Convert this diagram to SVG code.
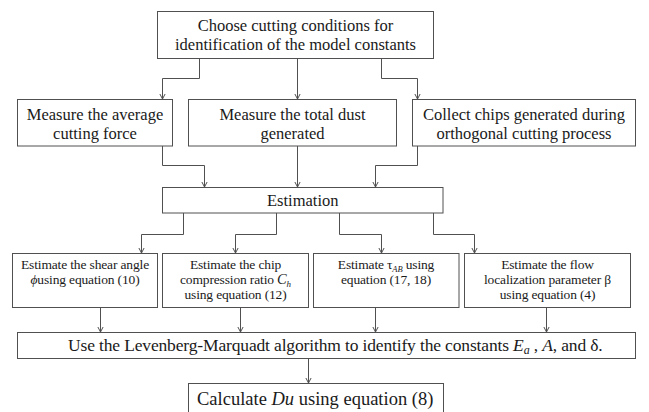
<svg xmlns="http://www.w3.org/2000/svg" width="649" height="412" viewBox="0 0 649 412">
<style>
text{font-family:'Liberation Serif','Times New Roman','DejaVu Serif',serif;fill:#1a1a1a;text-anchor:middle}
.l{font-size:16.5px}
.s{font-size:13.5px;letter-spacing:-0.15px}
.b{font-size:17.5px;letter-spacing:-0.15px}
.i{font-style:italic}
.box{fill:#fff;stroke:#505050;stroke-width:1}
.conn path{fill:none;stroke:#505050;stroke-width:1;marker-end:url(#arr)}
</style>
<defs>
<marker id="arr" viewBox="-6 -4 7 8" refX="0" refY="0" markerWidth="7" markerHeight="8" markerUnits="userSpaceOnUse" orient="auto">
<path d="M-5,-2.6 L0,0 L-5,2.6" fill="none" stroke="#505050" stroke-width="1"/>
</marker>
</defs>
<rect width="649" height="412" fill="#fff"/>
<g class="conn">
<path d="M199.5,58.5 V78.5 H162.5 V99"/>
<path d="M297.5,58.5 V99"/>
<path d="M381.5,58.5 V78.5 H417.5 V99"/>
<path d="M162.5,146 V165.5 H204.5 V187"/>
<path d="M297.5,146 V187"/>
<path d="M417.5,146 V165.5 H375.5 V187"/>
<path d="M183.5,213 V234.5 H141.5 V253"/>
<path d="M276.5,213 V234.5 H235.5 V253"/>
<path d="M339.5,213 V234.5 H381.5 V253"/>
<path d="M433.5,213 V234.5 H474.5 V253"/>
<path d="M100.5,307.5 V332"/>
<path d="M240.5,307.5 V332"/>
<path d="M375.5,307.5 V332"/>
<path d="M546.5,307.5 V332"/>
<path d="M308.5,358.5 V383"/>
</g>
<g id="choose">
<rect class="box" x="157.5" y="11.5" width="276" height="47"/>
<text class="l" x="295.5" y="31">Choose cutting conditions for</text>
<text class="l" x="295.5" y="50">identification of the model constants</text>
</g>
<g id="force">
<rect class="box" x="17.5" y="99.5" width="155" height="46.5"/>
<text class="l" x="95" y="120">Measure the average</text>
<text class="l" x="95" y="139">cutting force</text>
</g>
<g id="dust">
<rect class="box" x="188.5" y="99.5" width="208" height="46.5"/>
<text class="l" x="292.5" y="120">Measure the total dust</text>
<text class="l" x="292.5" y="139">generated</text>
</g>
<g id="chips">
<rect class="box" x="412.5" y="99.5" width="223" height="46.5"/>
<text class="l" x="524" y="120">Collect chips generated during</text>
<text class="l" x="524" y="139">orthogonal cutting process</text>
</g>
<g id="estimation">
<rect class="box" x="162.5" y="187.5" width="280.5" height="25.5"/>
<text class="l" x="302.75" y="206">Estimation</text>
</g>
<g id="shear">
<rect class="box" x="12.5" y="253.5" width="145" height="54"/>
<text class="s" x="85" y="269">Estimate the shear angle</text>
<text class="s" x="85" y="284"><tspan class="i">ϕ</tspan>using  equation (10)</text>
</g>
<g id="compression">
<rect class="box" x="162.5" y="253.5" width="146" height="54"/>
<text class="s" x="235.5" y="269">Estimate the chip</text>
<text class="s" x="235.5" y="284">compression ratio <tspan class="i" font-size="14.5">C</tspan><tspan class="i" font-size="9" dy="2.5">h</tspan></text>
<text class="s" x="235.5" y="299">using  equation (12)</text>
</g>
<g id="tau">
<rect class="box" x="313.5" y="253.5" width="145.5" height="54"/>
<text class="s" x="386" y="269">Estimate τ<tspan class="i" font-size="8.5" dy="2.5">AB</tspan><tspan dy="-2.5"> using</tspan></text>
<text class="s" x="386" y="284">equation (17, 18)</text>
</g>
<g id="beta">
<rect class="box" x="464.5" y="253.5" width="166" height="54"/>
<text class="s" x="547.5" y="269">Estimate the flow</text>
<text class="s" x="547.5" y="284">localization parameter β</text>
<text class="s" x="547.5" y="299">using  equation (4)</text>
</g>
<g id="lm">
<rect class="box" x="17.5" y="332.5" width="618" height="26"/>
<text class="b" x="68" y="351" style="text-anchor:start">Use the Levenberg-Marquadt algorithm to identify the constants <tspan class="i">E</tspan><tspan class="i" font-size="12" dy="3">a</tspan><tspan dy="-3"> , </tspan><tspan class="i">A</tspan>, and δ.</text>
</g>
<g id="du">
<rect class="box" x="188.5" y="383.5" width="255" height="29"/>
<text x="197" y="404.5" style="text-anchor:start;font-size:18.5px">Calculate <tspan class="i">Du</tspan> using equation (8)</text>
</g>
</svg>
